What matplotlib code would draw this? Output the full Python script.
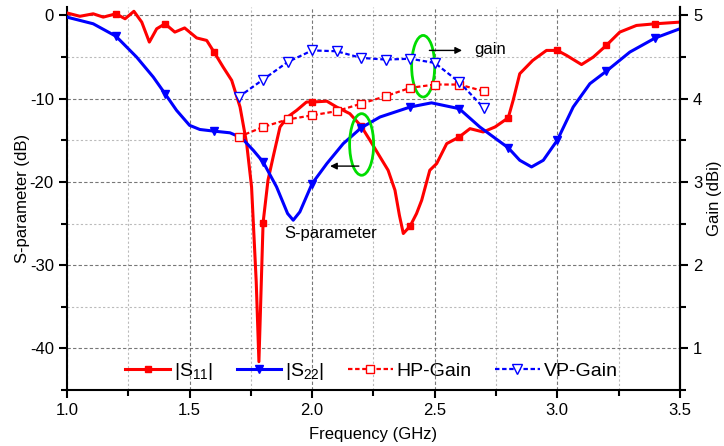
import numpy as np
import matplotlib
matplotlib.use("Agg")
import matplotlib.pyplot as plt
from matplotlib.patches import Ellipse
from matplotlib.ticker import MultipleLocator

plt.rcParams['font.family'] = ['Liberation Sans', 'DejaVu Sans']
plt.rcParams['mathtext.fontset'] = 'custom'
plt.rcParams['mathtext.rm'] = 'Liberation Sans'
plt.rcParams['mathtext.it'] = 'Liberation Sans'

# |S11| (dB) vs frequency (GHz)
s11_freq = [1.0, 1.053, 1.107, 1.148, 1.2, 1.237, 1.273, 1.305, 1.336, 1.366, 1.4,
            1.44, 1.48, 1.529, 1.57, 1.6, 1.637, 1.672, 1.706, 1.733, 1.753, 1.772,
            1.783, 1.8, 1.82, 1.841, 1.869, 1.9, 1.937, 1.977, 2.0, 2.06, 2.1, 2.154,
            2.2, 2.236, 2.277, 2.31, 2.338, 2.356, 2.372, 2.4, 2.426, 2.447, 2.48,
            2.508, 2.549, 2.6, 2.644, 2.698, 2.746, 2.8, 2.82, 2.847, 2.9, 2.956,
            3.0, 3.038, 3.099, 3.147, 3.2, 3.255, 3.323, 3.4, 3.5]
s11_db = [0.3, -0.1, 0.2, -0.2, 0.2, -0.4, 0.5, -0.8, -3.2, -1.6, -1.0,
          -2.0, -1.5, -2.7, -3.0, -4.4, -6.2, -7.8, -11.0, -15.4, -20.6, -32.0,
          -41.6, -24.9, -19.8, -17.0, -13.4, -12.2, -11.4, -10.4, -10.4, -10.3, -11.0, -11.8,
          -13.3, -15.0, -17.0, -18.6, -21.0, -24.0, -26.2, -25.3, -23.8, -22.2, -18.6,
          -17.8, -15.4, -14.6, -13.6, -14.0, -13.4, -12.3, -10.2, -7.0, -5.4, -4.2,
          -4.2, -4.8, -5.9, -5.0, -3.6, -2.0, -1.2, -1.0, -0.8]

# |S22| (dB)
s22_freq = [1.0, 1.107, 1.2, 1.284, 1.352, 1.4, 1.447, 1.5, 1.542, 1.6, 1.665,
            1.712, 1.76, 1.8, 1.855, 1.9, 1.923, 1.95, 2.0, 2.06, 2.127, 2.2, 2.277,
            2.4, 2.487, 2.6, 2.684, 2.8, 2.847, 2.895, 2.943, 3.0, 3.065, 3.133,
            3.2, 3.296, 3.4, 3.5]
s22_db = [-0.2, -1.0, -2.5, -5.0, -7.4, -9.4, -11.4, -13.2, -13.7, -13.9, -14.1,
          -14.7, -16.2, -17.6, -20.6, -23.8, -24.6, -23.6, -20.2, -17.8, -15.4, -13.5, -12.2,
          -11.0, -10.5, -11.2, -13.4, -15.9, -17.4, -18.2, -17.4, -15.0, -11.0, -8.2,
          -6.7, -4.4, -2.7, -1.6]

# realised gain (dBi)
gain_freq = [1.7, 1.8, 1.9, 2.0, 2.1, 2.2, 2.3, 2.4, 2.5, 2.6, 2.7]
hp_gain = [3.54, 3.66, 3.75, 3.80, 3.85, 3.94, 4.03, 4.13, 4.17, 4.17, 4.09]
vp_gain = [4.02, 4.23, 4.44, 4.58, 4.57, 4.49, 4.47, 4.48, 4.43, 4.20, 3.89]

marker_freq = [1.2, 1.4, 1.6, 1.8, 2.0, 2.2, 2.4, 2.6, 2.8, 3.0, 3.2, 3.4]


def marker_idx(freq):
    return [i for i, f in enumerate(freq) if any(np.isclose(f, m) for m in marker_freq)]


fig, ax = plt.subplots(figsize=(7.24, 4.46), dpi=100)
fig.subplots_adjust(left=0.0925, right=0.939, bottom=0.1256, top=0.984)
ax2 = ax.twinx()

l1, = ax.plot(s11_freq, s11_db, color='#ff0000', lw=2.2, marker='s', ms=5,
              markevery=marker_idx(s11_freq), label=r'$|\mathrm{S}_{11}|$', zorder=3)
l2, = ax.plot(s22_freq, s22_db, color='#0000ff', lw=2.2, marker='v', ms=6,
              markevery=marker_idx(s22_freq), label=r'$|\mathrm{S}_{22}|$', zorder=4)
l3, = ax2.plot(gain_freq, hp_gain, color='#ff0000', lw=1.6, ls=(0, (2, 1.2)), marker='s',
               ms=6, mfc='white', mew=1.0, label='HP-Gain')
l4, = ax2.plot(gain_freq, vp_gain, color='#0000ff', lw=1.6, ls=(0, (2, 1.2)), marker='v',
               ms=6.5, mfc='white', mew=1.0, label='VP-Gain')

ax.set_xlim(1.0, 3.5)
ax.set_ylim(-45, 1)
ax2.set_ylim(0.5, 5.1)

ax.xaxis.set_major_locator(MultipleLocator(0.5))
ax.xaxis.set_minor_locator(MultipleLocator(0.25))
ax.yaxis.set_major_locator(MultipleLocator(10))
ax.yaxis.set_minor_locator(MultipleLocator(5))
ax2.yaxis.set_major_locator(MultipleLocator(1))
ax2.yaxis.set_minor_locator(MultipleLocator(0.5))
ax.set_xticks([1.0, 1.5, 2.0, 2.5, 3.0, 3.5])
ax.set_xticklabels(['1.0', '1.5', '2.0', '2.5', '3.0', '3.5'])
ax.set_yticks([0, -10, -20, -30, -40])
ax.set_yticklabels(['0', '-10', '-20', '-30', '-40'])

ax.grid(which='major', color='#777777', ls=(0, (3, 2)), lw=0.8)
ax.grid(which='minor', color='#bbbbbb', ls=(0, (2, 2)), lw=0.8)

for a in (ax, ax2):
    a.spines['top'].set_visible(False)
    for s in ('left', 'right', 'bottom'):
        a.spines[s].set_linewidth(1.5)
    a.tick_params(which='major', direction='out', length=6, width=1.5, labelsize=12)
    a.tick_params(which='minor', direction='out', length=4, width=1.5)
ax2.spines['left'].set_visible(False)
ax2.spines['bottom'].set_visible(False)

ax.set_xlabel('Frequency (GHz)', fontsize=12, labelpad=6)
ax.set_ylabel('S-parameter (dB)', fontsize=12, labelpad=0)
ax2.set_ylabel('Gain (dBi)', fontsize=12, labelpad=3)

# annotations: ellipses marking which curves go with which axis
ax.add_patch(Ellipse((2.202, -15.5), 0.098, 7.4, fill=False, ec='#00dd00', lw=2, zorder=6))
ax.add_patch(Ellipse((2.453, -6.1), 0.094, 7.4, fill=False, ec='#00dd00', lw=2, zorder=6))
ax.annotate('', xy=(2.062, -18.1), xytext=(2.202, -18.1),
            arrowprops=dict(arrowstyle='-|>', color='black', lw=1, mutation_scale=10), zorder=6)
ax.annotate('', xy=(2.623, -4.2), xytext=(2.467, -4.2),
            arrowprops=dict(arrowstyle='-|>', color='black', lw=1, mutation_scale=10), zorder=6)
ax.text(2.075, -26.2, 'S-parameter', fontsize=12, ha='center', va='center', zorder=6)
ax.text(2.66, -4.1, 'gain', fontsize=12, ha='left', va='center', zorder=6)

leg = ax2.legend(handles=[l1, l2, l3, l4], loc='lower left', bbox_to_anchor=(0.07, -0.02),
                 ncol=4, frameon=False, fontsize=14, handlelength=2.3, handletextpad=0.2,
                 columnspacing=1.2, borderaxespad=0.4)

plt.savefig('out.png', dpi=100)
